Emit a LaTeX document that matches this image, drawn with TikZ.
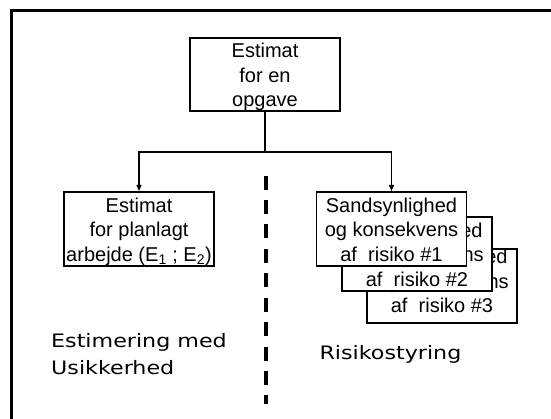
\documentclass[tikz,border=0pt]{standalone}
\usepackage{fontspec}
\setmainfont{Liberation Sans}
\newfontfamily\widefont{DejaVu Sans}[FakeStretch=1.2]
\usetikzlibrary{arrows.meta}

\begin{document}
\begin{tikzpicture}[x=1pt,y=-1pt,
    box/.style={draw,line width=1.6pt,fill=white,inner sep=0pt,minimum width=150pt,minimum height=74pt,
        align=center,text height=65pt,text depth=0pt,font=\fontsize{20}{24.5}\selectfont},
    arr/.style={line width=1.4pt,-{Triangle[length=6pt,width=5pt]}},
    lbl/.style={anchor=base west,inner sep=0pt,align=left,font=\widefont\fontsize{18.5}{26.6}\selectfont}]
    \useasboundingbox (0,0) rectangle (551,419);
    \draw[line width=3.3pt] (551,10.7) -- (11.7,10.7) -- (11.7,419);

    \node (task) at (265,74.5) [box,minimum height=73pt]{Estimat\\for en\\opgave};
    \node (plan) at (139,228.8) [box]{Estimat\\for planlagt\\arbejde (E\textsubscript{1} ; E\textsubscript{2})};

    \foreach \i/\x/\y/\h in {3/442/286/59,2/417/254/65,1/391.5/228.8/65} {
        \node (risk\i) at (\x,\y) [box,text height=\h pt,text depth=65pt-\h pt]{Sandsynlighed\\og konsekvens\\af\ \ risiko \#\i};
    }

    \coordinate (fork) at (265,152);
    \draw[line width=1.4pt] (task) -- (fork);
    \draw[arr] (fork) -| (plan);
    \draw[arr] (fork) -| (risk1);

    \coordinate (divtop) at (266,175.7);
    \coordinate (divbot) at (266,404);
    \draw[line width=3.4pt,dash pattern=on 14pt off 10.4pt] (divtop) -- (divbot);

    \node (estlbl) at (51,374.3) [lbl]{Estimering med\\Usikkerhed};
    \node (risklbl) at (319.3,359) [lbl]{Risikostyring};
\end{tikzpicture}
\end{document}
